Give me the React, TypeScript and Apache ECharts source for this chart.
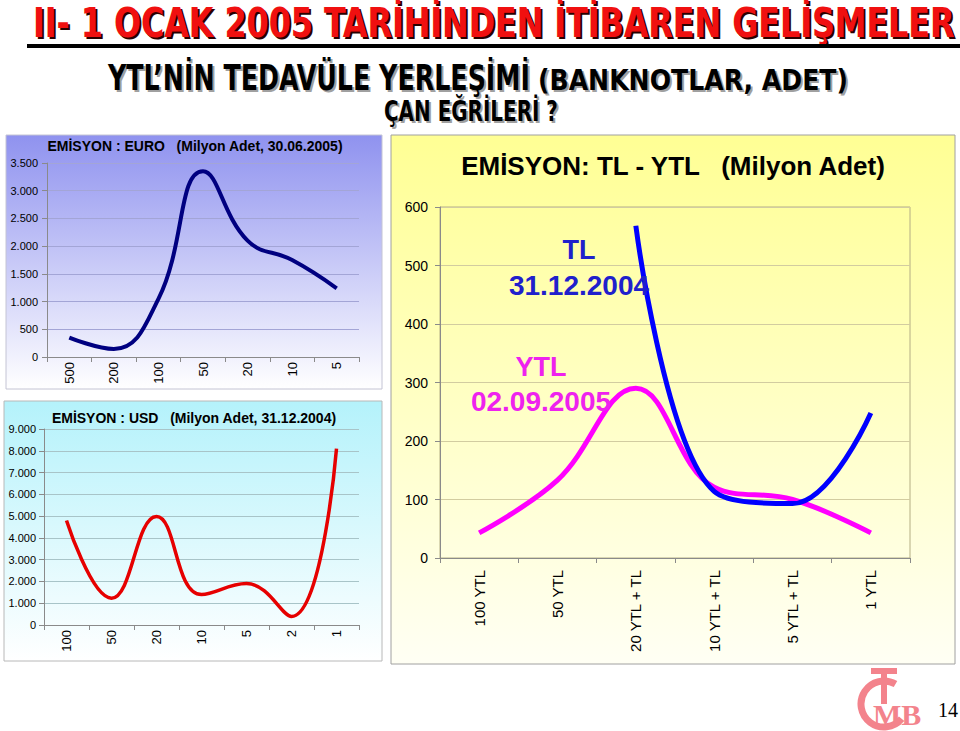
import React, { useEffect, useRef } from "react";
import * as echarts from "echarts";

// ---------- data ----------
const EURO_CATS = ["500", "200", "100", "50", "20", "10", "5"];
const EURO_VALUES = [350, 145, 1050, 3350, 2100, 1750, 1240];
const EURO_Y_MAX = 3500;
const EURO_Y_STEP = 500;

const USD_CATS = ["100", "50", "20", "10", "5", "2", "1"];
const USD_VALUES = [4800, 1230, 4980, 1400, 1900, 390, 8100];
const USD_Y_MAX = 9000;
const USD_Y_STEP = 1000;

const TL_CATS = ["100 YTL", "50 YTL", "20 YTL + TL", "10 YTL + TL", "5 YTL + TL", "1 YTL"];
const TL_VALUES = [null, null, 568, 114, 93, 248];
const YTL_VALUES = [43, 133, 290, 121, 100, 43];
const TL_Y_MAX = 600;
const TL_Y_STEP = 100;

const MAIN_TITLE = "II- 1 OCAK 2005 TARİHİNDEN İTİBAREN GELİŞMELER";
const SUB_TITLE_1 = "YTL’NİN TEDAVÜLE YERLEŞİMİ";
const SUB_TITLE_2 = "(BANKNOTLAR, ADET)";
const SUB_TITLE_3 = "ÇAN EĞRİLERİ ?";
const EURO_TITLE = "EMİSYON : EURO   (Milyon Adet, 30.06.2005)";
const USD_TITLE = "EMİSYON : USD   (Milyon Adet, 31.12.2004)";
const TL_TITLE = "EMİSYON: TL - YTL   (Milyon Adet)";
const TL_LABEL = ["TL", "31.12.2004"];
const YTL_LABEL = ["YTL", "02.09.2005"];
const PAGE_NO = "14";

const SANS = '"Liberation Sans", Arial, sans-serif';
const COND = '"DejaVu Sans Condensed", "DejaVu Sans", sans-serif';
const SERIF = '"Liberation Serif", "DejaVu Serif", serif';

const fmt = (v: number) => String(v).replace(/\B(?=(\d{3})+(?!\d))/g, ".");

function measure(text: string, font: string): number {
  const c = document.createElement("canvas").getContext("2d");
  if (!c) return text.length * 10;
  c.font = font;
  return c.measureText(text).width;
}

function fitText(
  text: string,
  left: number,
  cy: number,
  width: number,
  size: number,
  fill: string,
  shadow: string,
  off: number
) {
  const font = `bold ${size}px ${COND}`;
  const sx = width / measure(text, font);
  const base = (dx: number, color: string, z: number) => ({
    type: "text",
    x: left + dx,
    y: cy + dx,
    scaleX: sx,
    z,
    style: { text, font, fill: color, align: "left", verticalAlign: "middle" },
  });
  return [base(off, shadow, 99), base(0, fill, 100)];
}

function panel(x: number, y: number, w: number, h: number, top: string, bottom: string, border: string) {
  return {
    type: "rect",
    z: -10,
    shape: { x, y, width: w, height: h },
    style: {
      fill: new echarts.graphic.LinearGradient(0, 0, 0, 1, [
        { offset: 0, color: top },
        { offset: 1, color: bottom },
      ]),
      stroke: border,
      lineWidth: 1,
    },
  };
}

function centerText(text: string, x: number, y: number, size: number, color: string, family = SANS, weight = "bold") {
  return {
    type: "text",
    x,
    y,
    z: 100,
    style: { text, font: `${weight} ${size}px ${family}`, fill: color, align: "center", verticalAlign: "middle" },
  };
}

function valueAxis(gridIndex: number, max: number, step: number, size: number, margin: number, gridColor: string, useFmt: boolean) {
  return {
    type: "value",
    gridIndex,
    min: 0,
    max,
    interval: step,
    axisLine: { show: true, lineStyle: { color: "#8a8a8a", width: 1 } },
    axisTick: { show: true, length: 5, lineStyle: { color: "#8a8a8a" } },
    splitLine: { show: true, lineStyle: { color: gridColor, width: 1 } },
    axisLabel: {
      color: "#000",
      fontFamily: SANS,
      fontSize: size,
      margin,
      formatter: (v: number) => (useFmt ? fmt(v) : String(v)),
    },
  };
}

function catAxis(gridIndex: number, data: string[], size: number, margin: number) {
  return {
    type: "category",
    gridIndex,
    data,
    boundaryGap: true,
    axisLine: { show: true, lineStyle: { color: "#8a8a8a", width: 1 } },
    axisTick: { show: true, length: 5, alignWithLabel: false, lineStyle: { color: "#8a8a8a" } },
    axisLabel: { color: "#000", fontFamily: SANS, fontSize: size, rotate: 90, margin, interval: 0 },
  };
}

export default function App() {
  const ref = useRef<HTMLDivElement>(null);

  useEffect(() => {
    if (!ref.current) return;
    const chart = echarts.init(ref.current, undefined, { renderer: "svg" });

    const graphic: any[] = [
      panel(6, 135, 376, 254, "#8f92ef", "#ffffff", "#c4c4d4"),
      panel(4, 401, 378, 260, "#b4f2fb", "#ffffff", "#b8b8b8"),
      panel(391, 135, 564, 529, "#ffff94", "#fffff4", "#a0a0a0"),
      ...fitText(MAIN_TITLE, 33, 23, 922, 41, "#f01010", "#2a0000", 2),
      { type: "rect", z: 100, shape: { x: 27, y: 44, width: 933, height: 4 }, style: { fill: "#000" } },
      ...fitText(SUB_TITLE_1, 108, 78, 422, 35, "#000", "#a0a0a0", 2),
      ...fitText(SUB_TITLE_2, 538, 80, 310, 28, "#000", "#a0a0a0", 2),
      ...fitText(SUB_TITLE_3, 384, 112, 174, 28, "#000", "#a0a0a0", 2),
      centerText(EURO_TITLE, 195, 146, 14, "#000"),
      centerText(USD_TITLE, 194, 418, 14, "#000"),
      centerText(TL_TITLE, 673, 166, 26, "#000"),
      centerText(TL_LABEL[0], 579, 250, 27, "#2020cc"),
      centerText(TL_LABEL[1], 579, 285, 28, "#2020cc"),
      centerText(YTL_LABEL[0], 541, 367, 27, "#ee22ee"),
      centerText(YTL_LABEL[1], 541, 401, 28, "#ee22ee"),
      // logo
      {
        type: "arc",
        z: 100,
        shape: { cx: 884, cy: 704, r: 23, startAngle: (40 * Math.PI) / 180, endAngle: (300 * Math.PI) / 180, clockwise: true },
        style: { stroke: "#f3838c", lineWidth: 7, fill: "none" },
      },
      { type: "rect", z: 100, shape: { x: 871, y: 668, width: 26, height: 6 }, style: { fill: "#f3838c" } },
      { type: "rect", z: 100, shape: { x: 881, y: 668, width: 6, height: 36 }, style: { fill: "#f3838c" } },
      {
        type: "text",
        x: 873,
        y: 729,
        z: 100,
        style: { text: "MB", font: `bold 30px ${SERIF}`, fill: "#f3838c", align: "left", verticalAlign: "bottom" },
      },
      centerText(PAGE_NO, 948, 710, 20, "#000", SERIF, "normal"),
    ];

    chart.setOption({
      animation: false,
      backgroundColor: "#ffffff",
      grid: [
        { left: 47, top: 163, width: 312, height: 194, show: false },
        { left: 44, top: 429, width: 315, height: 196, show: false },
        { left: 440, top: 207, width: 470, height: 351, show: true, borderColor: "#b4ae84", borderWidth: 1, backgroundColor: "transparent" },
      ],
      xAxis: [catAxis(0, EURO_CATS, 13, 5), catAxis(1, USD_CATS, 13, 5), catAxis(2, TL_CATS, 15, 12)],
      yAxis: [
        valueAxis(0, EURO_Y_MAX, EURO_Y_STEP, 11, 9, "#a3a5d6", true),
        valueAxis(1, USD_Y_MAX, USD_Y_STEP, 11, 8, "#a8c4c8", true),
        valueAxis(2, TL_Y_MAX, TL_Y_STEP, 14, 12, "#d2cca0", false),
      ],
      series: [
        {
          type: "line",
          xAxisIndex: 0,
          yAxisIndex: 0,
          data: EURO_VALUES,
          smooth: 0.45,
          symbol: "none",
          lineStyle: { color: "#000080", width: 4 },
        },
        {
          type: "line",
          xAxisIndex: 1,
          yAxisIndex: 1,
          data: USD_VALUES,
          smooth: 0.45,
          symbol: "none",
          lineStyle: { color: "#e60000", width: 3.5 },
        },
        {
          type: "line",
          name: "YTL",
          xAxisIndex: 2,
          yAxisIndex: 2,
          data: YTL_VALUES,
          smooth: 0.4,
          symbol: "none",
          lineStyle: { color: "#ff00ff", width: 5 },
        },
        {
          type: "line",
          name: "TL",
          xAxisIndex: 2,
          yAxisIndex: 2,
          data: TL_VALUES,
          smooth: 0.4,
          symbol: "none",
          connectNulls: false,
          lineStyle: { color: "#0000ff", width: 5 },
        },
      ],
      graphic,
    });

    return () => chart.dispose();
  }, []);

  return <div ref={ref} style={{ position: "absolute", left: 0, top: 0, width: 960, height: 731 }} />;
}
